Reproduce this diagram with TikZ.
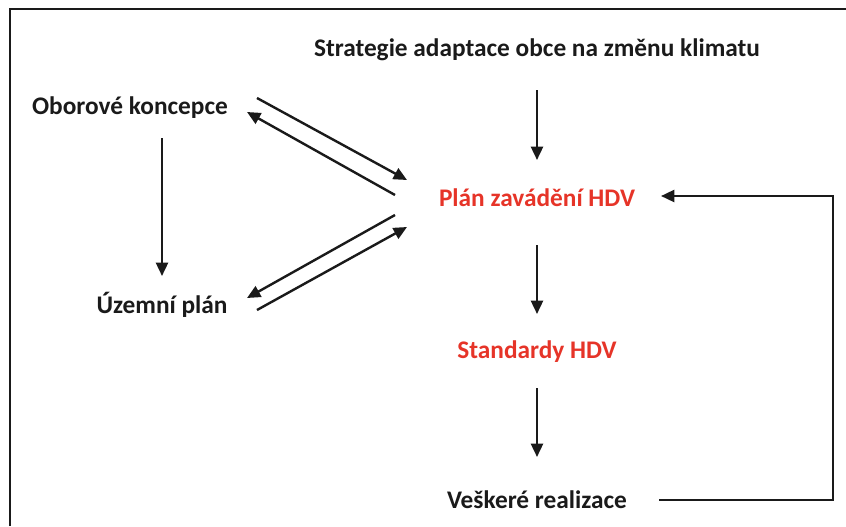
\documentclass[tikz,border=0pt]{standalone}
\usepackage{fontspec}
\setmainfont{Carlito}
\usetikzlibrary{arrows.meta,calc,positioning}
\definecolor{fg}{RGB}{26,26,26}
\definecolor{hdv}{RGB}{230,52,40}
\tikzset{
  every picture/.style={fg, line width=1.8pt, line cap=butt,
    >={Triangle[length=10pt,width=9pt]}},
  % Beschriftungen
  lbl/.style={font=\fontsize{19}{22}\selectfont\bfseries, text=fg, inner sep=0pt},
  hdvlbl/.style={lbl, text=hdv},
  % Pfeile
  arr/.style={->},
}
\begin{document}
\begin{tikzpicture}[x=0.75pt, y=-0.75pt]
  \useasboundingbox (0,0) rectangle (846,526);
  % Rahmen (nur oben und links sichtbar)
  \draw[line width=1.3pt] (10,526) -- (10,9) -- (846,9);
  % Knoten
  \node[lbl] (strat) at (537,50) {Strategie adaptace obce na změnu klimatu};
  \node[lbl] (obor) at (130,108) {Oborové koncepce};
  \node[lbl] (uzem) at (162,305) {Územní plán};
  \node[hdvlbl] (plan) at (537,198) {Plán zavádění HDV};
  \node[hdvlbl] (std) at (537,352) {Standardy HDV};
  \node[lbl] (real) at (537,500) {Veškeré realizace};
  % senkrechte Pfeile
  \draw[arr] ($(strat.center)+(0,40)$) -- ($(plan.center)+(0,-38)$);
  \draw[arr] ($(plan.center)+(0,47)$) -- ($(std.center)+(0,-38)$);
  \draw[arr] ($(std.center)+(0,36)$) -- ($(real.center)+(0,-43)$);
  \draw[arr] ($(obor.center -| uzem.center)+(0,30)$) -- ($(uzem.center)+(0,-29)$);
  % Wechselwirkung mit dem Plan
  \draw[arr] ($(obor.center)+(127,-10)$) -- ($(plan.center)+(-130,-18)$);
  \draw[arr] ($(plan.center)+(-142,-3)$) -- ($(obor.center)+(117,4)$);
  \draw[arr] ($(plan.center)+(-142,17)$) -- ($(uzem.center)+(85,-7)$);
  \draw[arr] ($(uzem.center)+(95,5)$) -- ($(plan.center)+(-130,29)$);
  % Rückkopplung
  \draw[arr] ($(real.center)+(122,0)$) -| ($(plan.center)+(296,-2)$) -- ($(plan.center)+(124,-2)$);
\end{tikzpicture}
\end{document}
